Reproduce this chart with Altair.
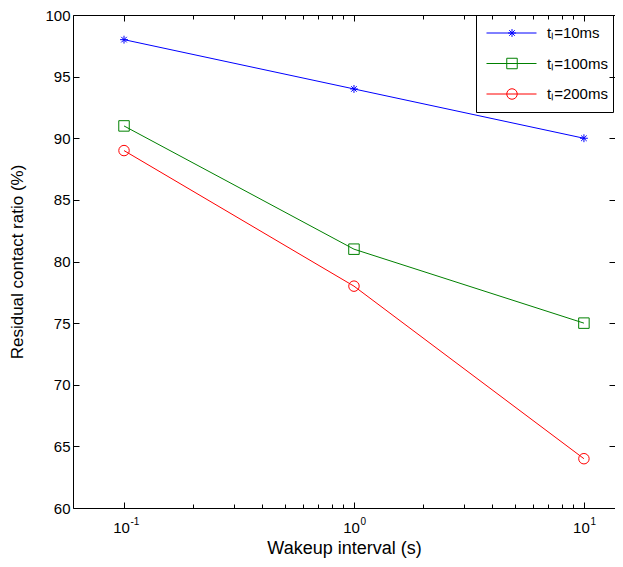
import altair as alt
import pandas as pd

# ---- data ----
x_vals = [0.1, 1, 10]
t10 = [98, 94, 90]
t100 = [91, 81, 75]
t200 = [89, 78, 64]
series_names = ["tₗ=10ms", "tₗ=100ms", "tₗ=200ms"]
marker_keys = ["m1", "m2", "m3"]
colors = ["#0000ff", "#008000", "#ff0000"]

x_major = [0.1, 1, 10]
x_minor = [0.2, 0.3, 0.4, 0.5, 0.6, 0.7, 0.8, 0.9, 2, 3, 4, 5, 6, 7, 8, 9]
y_ticks = [60, 65, 70, 75, 80, 85, 90, 95, 100]

marker_paths = [
    "M0,-0.75L0,0.75M-0.75,0L0.75,0M-0.53,-0.53L0.53,0.53M-0.53,0.53L0.53,-0.53",
    "M-1,-1L1,-1L1,1L-1,1Z",
    "M1,0A1,1,0,1,1,-1,0A1,1,0,1,1,1,0Z",
]

rows = []
for name, key, vals in zip(series_names, marker_keys, [t10, t100, t200]):
    for xv, yv in zip(x_vals, vals):
        rows.append({"x": xv, "y": yv, "series": name, "mk": key})
df = pd.DataFrame(rows)

FONT = "Liberation Sans"
xscale = alt.Scale(type="log", domain=[0.06, 13.65], nice=False)
yscale = alt.Scale(domain=[60, 100], nice=False, zero=False)

common = dict(domain=False, grid=False, tickColor="black", tickWidth=1,
              labelFont=FONT, labelColor="black")

base = alt.Chart(df)

legA = alt.Legend(
    title=None, orient="none", legendX=403, legendY=0, direction="vertical",
    symbolType="stroke", symbolSize=2500, symbolStrokeWidth=1,
    labelFont=FONT, labelFontSize=15, labelColor="black", labelOffset=10,
    labelLimit=300, padding=5, symbolOffset=5, rowPadding=4.5, clipHeight=26,
    strokeColor="black",
)
legB = alt.Legend(
    title=None, orient="none", legendX=423, legendY=0, direction="vertical",
    symbolSize=110, symbolStrokeWidth=1, labelExpr="''",
    padding=5, symbolOffset=5, rowPadding=4.5, clipHeight=26,
)

lines = base.mark_line(strokeWidth=1).encode(
    x=alt.X("x:Q", scale=xscale, axis=alt.Axis(
        orient="bottom", values=x_major, offset=-6, tickSize=6,
        labelExpr="'10'", labelFontSize=15, labelPadding=12, labelOffset=-3,
        title="Wakeup interval (s)", titleFont=FONT, titleFontSize=18,
        titleFontWeight="normal", titleColor="black", titlePadding=4, **common)),
    y=alt.Y("y:Q", scale=yscale, axis=alt.Axis(
        orient="left", values=y_ticks, offset=-6, tickSize=6,
        labelFontSize=15, labelPadding=3,
        title="Residual contact ratio (%)", titleFont=FONT, titleFontSize=17,
        titleFontWeight="normal", titleColor="black", titlePadding=18, **common)),
    color=alt.Color("series:N", scale=alt.Scale(domain=series_names, range=colors),
                    legend=legA),
)

points = base.mark_point(filled=False, size=110, strokeWidth=1, opacity=1).encode(
    x=alt.X("x:Q", scale=xscale, axis=alt.Axis(
        orient="top", values=x_major, offset=-6, tickSize=6, labels=False,
        title=None, **common)),
    y=alt.Y("y:Q", scale=yscale, axis=alt.Axis(
        orient="right", values=y_ticks, offset=-6, tickSize=6, labels=False,
        title=None, **common)),
    shape=alt.Shape("mk:N", scale=alt.Scale(domain=marker_keys, range=marker_paths),
                    legend=legB),
    stroke=alt.Stroke("mk:N", scale=alt.Scale(domain=marker_keys, range=colors),
                      legend=legB),
)

minor_bottom = base.mark_point(opacity=0).encode(
    x=alt.X("x:Q", scale=xscale, axis=alt.Axis(
        orient="bottom", values=x_minor, offset=-4, tickSize=4, labels=False,
        title=None, **common)),
    y=alt.Y("y:Q", scale=yscale, axis=None),
)
minor_top = base.mark_point(opacity=0).encode(
    x=alt.X("x:Q", scale=xscale, axis=alt.Axis(
        orient="top", values=x_minor, offset=-4, tickSize=4, labels=False,
        title=None, **common)),
    y=alt.Y("y:Q", scale=yscale, axis=None),
)
expo = base.mark_point(opacity=0).encode(
    x=alt.X("x:Q", scale=xscale, axis=alt.Axis(
        orient="bottom", values=x_major, ticks=False, tickSize=0,
        labelExpr="datum.value < 0.5 ? '-1' : (datum.value < 5 ? '0' : '1')",
        labelFontSize=10, labelPadding=8, labelOffset=6, labelAlign="left",
        title=None, **common)),
    y=alt.Y("y:Q", scale=yscale, axis=None),
)

chart = alt.layer(lines, points, minor_bottom, minor_top, expo).resolve_axis(
    x="independent", y="independent"
).properties(
    width=542, height=493,
    autosize=alt.AutoSizeParams(type="none"),
    padding={"left": 65, "top": 7, "right": 0, "bottom": 51},
    background="white",
).configure_view(stroke="black", strokeWidth=1)

chart.save("out.html", embed_options={"renderer": "svg", "actions": False})
